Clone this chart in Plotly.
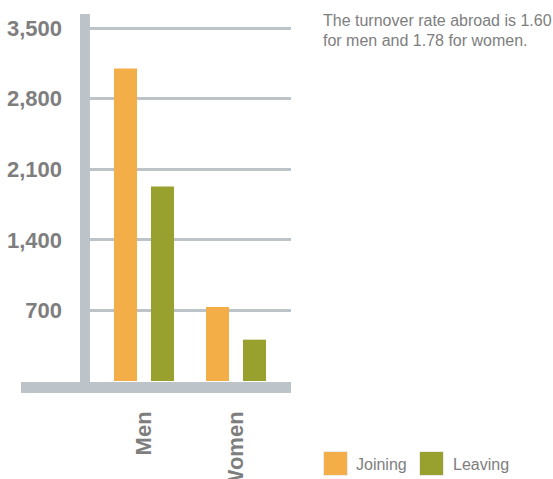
import plotly.graph_objects as go

# ---- data ----
categories = ["Men", "Women"]
joining = [3100, 735]
leaving = [1930, 410]
series_names = ["Joining", "Leaving"]
series_colors = ["#F3AE48", "#98A02E"]
y_ticks = [700, 1400, 2100, 2800, 3500]
note_lines = ["The turnover rate abroad is 1.60", "for men and 1.78 for women."]

# ---- layout geometry (pixels) ----
W, H = 553, 479
L, R, T, B = 90, 291, 14, 381
PW, PH = R - L, B - T
AXIS_COLOR = "#BCC4C9"
TEXT_COLOR = "#7E7E7E"
FONT = "Liberation Sans Narrow, Arial Narrow, Liberation Sans, Arial, sans-serif"
BAR_W = 0.25
OFFSETS = [-0.326, 0.076]


def px_x(px):
    return (px - L) / PW


def px_y(py):
    return (B - py) / PH


fig = go.Figure()
for name, vals, col, off in zip(series_names, [joining, leaving], series_colors, OFFSETS):
    fig.add_trace(go.Bar(x=categories, y=vals, name=name, width=BAR_W, offset=off,
                         marker=dict(color=col, line=dict(width=0)),
                         showlegend=False))

shapes = [
    # thick vertical axis bar
    dict(type="rect", xref="paper", yref="paper",
         x0=px_x(80), x1=px_x(90), y0=px_y(382), y1=px_y(14),
         fillcolor=AXIS_COLOR, line=dict(width=0), layer="above"),
    # thick baseline
    dict(type="rect", xref="paper", yref="paper",
         x0=px_x(21), x1=px_x(291), y0=px_y(393), y1=px_y(382),
         fillcolor=AXIS_COLOR, line=dict(width=0), layer="above"),
]

annotations = []
# legend (custom, large squares)
legend_sq_x = [324, 420]
legend_txt_x = [354, 451]
for name, col, sx, tx in zip(series_names, series_colors, legend_sq_x, legend_txt_x):
    shapes.append(dict(type="rect", xref="paper", yref="paper",
                       x0=px_x(sx - 1), x1=px_x(sx + 24), y0=px_y(476), y1=px_y(451),
                       fillcolor="rgba(0,0,0,0.08)", line=dict(width=0)))
    shapes.append(dict(type="rect", xref="paper", yref="paper",
                       x0=px_x(sx), x1=px_x(sx + 23), y0=px_y(475), y1=px_y(452),
                       fillcolor=col, line=dict(width=0)))
    annotations.append(dict(xref="paper", yref="paper", x=px_x(tx), y=px_y(464),
                            xanchor="left", yanchor="middle", showarrow=False,
                            text=name, font=dict(family=FONT, size=16, color=TEXT_COLOR)))

# note text
for i, line in enumerate(note_lines):
    annotations.append(dict(xref="paper", yref="paper", x=px_x(321), y=px_y(21 + 20 * i),
                            xanchor="left", yanchor="middle", showarrow=False,
                            text=line, font=dict(family=FONT, size=16, color=TEXT_COLOR)))

fig.update_layout(
    width=W, height=H,
    margin=dict(l=L, r=W - R, t=T, b=H - B, pad=0),
    paper_bgcolor="white", plot_bgcolor="white",
    barmode="overlay",
    showlegend=False,
    font=dict(family=FONT, color=TEXT_COLOR),
    shapes=shapes, annotations=annotations,
    xaxis=dict(type="category", range=[-0.587, 1.598], showgrid=False,
               showline=False, zeroline=False, tickangle=-90,
               ticks="", ticklabelstandoff=25, automargin=False,
               tickfont=dict(family=FONT, size=22, color=TEXT_COLOR, weight="bold")),
    yaxis=dict(range=[0, 3640], tickvals=y_ticks, tickformat=",",
               showgrid=True, gridcolor=AXIS_COLOR, gridwidth=3,
               showline=False, zeroline=False, ticks="", ticklabelstandoff=27,
               automargin=False,
               tickfont=dict(family=FONT, size=22, color=TEXT_COLOR, weight="bold")),
)

fig.write_html("out.html")
